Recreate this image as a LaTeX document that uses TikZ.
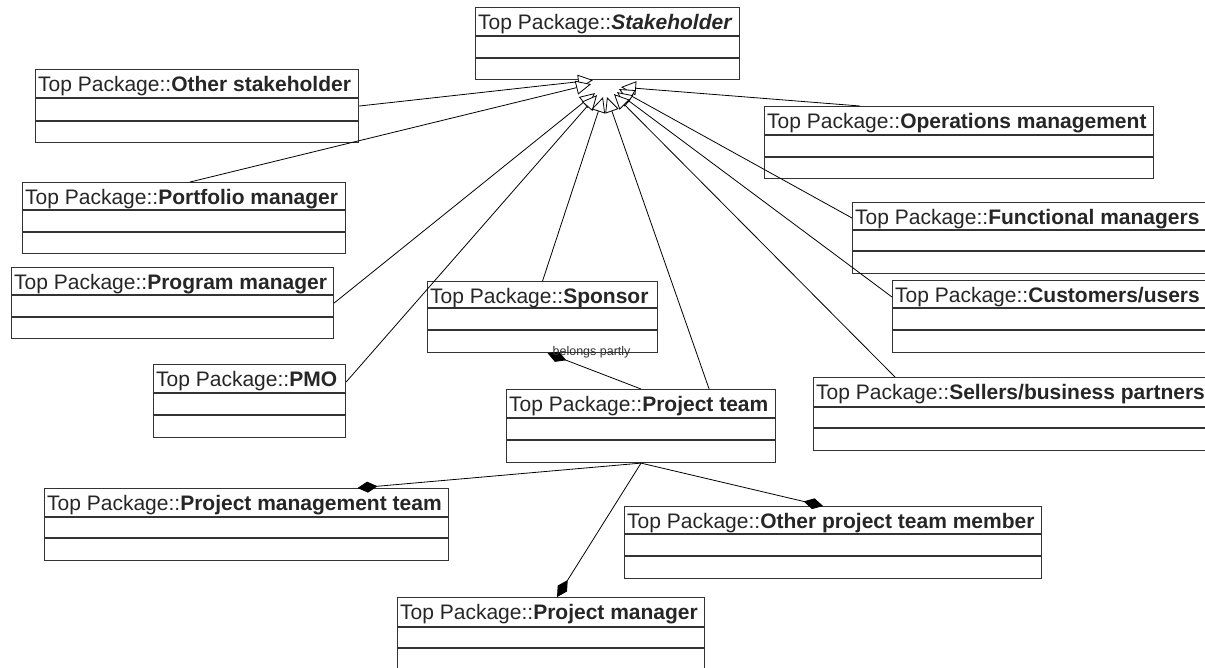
\documentclass[tikz,border=0pt]{standalone}
\usepackage{fontspec}
\setmainfont{Liberation Sans}
\usetikzlibrary{arrows.meta,calc}
\tikzset{
  ubox/.style={draw=black!80, line width=1.1pt, fill=white, inner sep=0pt, anchor=north west},
  utitle/.style={inner sep=0pt, anchor=base west, font=\fontsize{21}{24}\selectfont, text=black!85},
  rowline/.style={draw=black!80, line width=1.1pt},
  gen/.style={draw=black, line width=0.8pt, -{Triangle[open, length=15pt, width=14pt, fill=white]}},
  comp/.style={draw=black, line width=0.8pt, -{Diamond[length=20pt, width=11pt]}},
  lbl/.style={inner sep=0pt, font=\fontsize{12.5}{14}\selectfont, text=black!80}
}
% name, x, y, width, height, row1, row2, text
\newcommand\umlbox[8]{%
  \node[ubox, minimum width=#4pt, minimum height=#5pt] (#1) at (#2,#3) {};
  \node[utitle] (#1-t) at ([xshift=3pt,yshift=-22pt]#1.north west) {#8};
  \draw[rowline] ([yshift=-#6pt]#1.north west) -- ([yshift=-#6pt]#1.north east);
  \draw[rowline] ([yshift=-#7pt]#1.north west) -- ([yshift=-#7pt]#1.north east);
}
\begin{document}
\begin{tikzpicture}[x=1pt, y=-1pt]
\useasboundingbox (0,0) rectangle (1205,667);
\clip (0,0) rectangle (1205,667);
\fill[white] (0,0) rectangle (1205,667);

\umlbox{st}{475}{7}{264}{72}{29}{51}{Top Package::\textbf{\textit{Stakeholder}}}
\umlbox{os}{35}{69}{323}{73}{29}{52}{Top Package::\textbf{Other stakeholder}}
\umlbox{pf}{22}{182}{323}{71}{28}{50}{Top Package::\textbf{Portfolio manager}}
\umlbox{pg}{11}{267}{322}{71}{28}{50}{Top Package::\textbf{Program manager}}
\umlbox{pmo}{153}{364}{192}{73}{29}{51}{Top Package::\textbf{PMO}}
\umlbox{sp}{427}{281}{230}{71}{27}{49}{Top Package::\textbf{Sponsor}}
\umlbox{pt}{506}{389}{269}{73}{29}{51}{Top Package::\textbf{Project team}}
\umlbox{ops}{764}{106}{389}{72}{29}{51}{Top Package::\textbf{Operations management}}
\umlbox{fm}{852}{202}{400}{71}{28}{49}{Top Package::\textbf{Functional managers}}
\umlbox{cu}{892}{280}{400}{72}{28}{50}{Top Package::\textbf{Customers/users}}
\umlbox{se}{813}{377}{450}{73}{30}{51}{Top Package::\textbf{Sellers/business partners}}
\umlbox{pmt}{44}{488}{404}{72}{29}{50}{Top Package::\textbf{Project management team}}
\umlbox{optm}{624}{506}{417}{72}{28}{50}{Top Package::\textbf{Other project team member}}
\umlbox{pm}{397}{597}{307}{73}{30}{51}{Top Package::\textbf{Project manager}}

% generalizations to Stakeholder
\draw[gen] (os.east) -- ([xshift=118pt,yshift=0pt]st.south west);
\draw[gen] ([xshift=6pt]pf.north) -- ([xshift=116pt,yshift=-4pt]st.south west);
\draw[gen] (pg.east) -- ([xshift=120pt,yshift=-13pt]st.south west);
\draw[gen] ([yshift=19pt]pmo.east) -- ([xshift=122pt,yshift=-15pt]st.south west);
\draw[gen] (sp.north) -- ([xshift=128pt,yshift=-17pt]st.south west);
\draw[gen] ([xshift=-67pt]pt.north east) -- ([xshift=132pt,yshift=-17pt]st.south west);
\draw[gen] ([xshift=96pt]ops.north west) -- ([xshift=146pt,yshift=-7pt]st.south west);
\draw[gen] ([yshift=-16pt]fm.north west) -- ([xshift=144pt,yshift=-9pt]st.south west);
\draw[gen] ([yshift=-17pt]cu.north west) -- ([xshift=142pt,yshift=-12pt]st.south west);
\draw[gen] ([xshift=82pt]se.north west) -- ([xshift=139pt,yshift=-14pt]st.south west);

% compositions
\draw[comp] (pt.north) -- ([xshift=5pt]sp.south);
\node[lbl] (bp) at ([xshift=49pt,yshift=1pt]sp.south) {belongs partly};
\draw[comp] (pt.south) -- ([xshift=111pt]pmt.north);
\draw[comp] (pt.south) -- ([xshift=-10pt]optm.north);
\draw[comp] (pt.south) -- ([xshift=6pt]pm.north);
\end{tikzpicture}
\end{document}
